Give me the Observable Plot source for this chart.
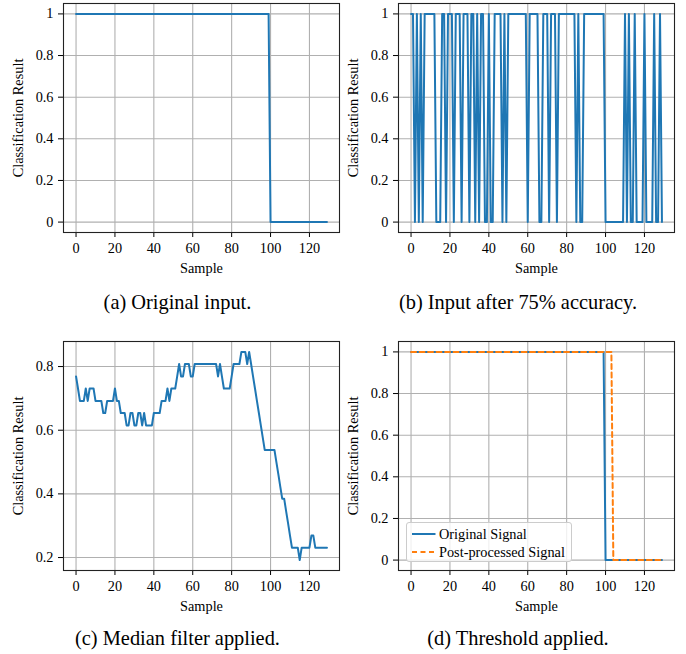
<!DOCTYPE html>
<html><head><meta charset="utf-8">
<script src="https://cdn.jsdelivr.net/npm/d3@7"></script>
<script src="https://cdn.jsdelivr.net/npm/@observablehq/plot@0.6"></script>
<style>
body{margin:0;background:#fff;}
#fig{position:relative;width:686px;height:654px;font-family:"Liberation Serif","Times New Roman",serif;color:#000;}
.panel{position:absolute;}
.cap{position:absolute;font-size:20.4px;line-height:24px;text-align:center;width:343px;white-space:nowrap;}
.legend{position:absolute;left:406px;top:522px;width:166px;height:40px;border:1px solid #cccccc;border-radius:3px;background:rgba(255,255,255,0.8);box-sizing:border-box;font-size:14.3px;}
.legend .row{position:absolute;left:0;height:18px;line-height:18px;white-space:nowrap;}
.legend svg{position:absolute;left:5px;top:0;}
.legend span{position:absolute;left:32px;top:0;}
</style></head><body><div id="fig"></div>
<script>
// ---- data ----
const xTicks = [0, 20, 40, 60, 80, 100, 120];
const yTicksUnit = [0, 0.2, 0.4, 0.6, 0.8, 1];
const yTicksMedian = [0.2, 0.4, 0.6, 0.8];

const xLabel = "Sample";
const yLabel = "Classification Result";
const captions = ["(a) Original input.", "(b) Input after 75% accuracy.", "(c) Median filter applied.", "(d) Threshold applied."];
const legendLabels = ["Original Signal", "Post-processed Signal"];

// (a) original input, samples 0..129
const originalInput = [
  1,1,1,1,1,1,1,1,1,1,
  1,1,1,1,1,1,1,1,1,1,
  1,1,1,1,1,1,1,1,1,1,
  1,1,1,1,1,1,1,1,1,1,
  1,1,1,1,1,1,1,1,1,1,
  1,1,1,1,1,1,1,1,1,1,
  1,1,1,1,1,1,1,1,1,1,
  1,1,1,1,1,1,1,1,1,1,
  1,1,1,1,1,1,1,1,1,1,
  1,1,1,1,1,1,1,1,1,1,
  0,0,0,0,0,0,0,0,0,0,
  0,0,0,0,0,0,0,0,0,0,
  0,0,0,0,0,0,0,0,0,0
];

// (b) input after 75% accuracy
const noisyInput = [
  1,1,0,1,0,1,0,1,1,1,
  1,1,1,0,0,0,1,1,0,1,
  1,1,0,1,1,1,0,1,1,1,
  0,1,1,0,1,0,1,1,0,0,
  1,0,0,1,1,1,1,0,1,0,
  1,1,1,1,1,1,1,1,1,1,
  0,1,1,1,1,1,0,0,1,1,
  1,0,1,1,1,0,1,1,1,1,
  1,1,1,1,1,0,1,0,0,1,
  1,1,1,1,1,1,1,1,1,1,
  0,0,0,0,0,0,0,0,0,0,
  1,0,1,0,0,1,0,0,0,0,
  1,0,0,0,0,1,0,0,1,0
];

// (c) median filter applied
const filtered = [
  0.769,0.731,0.692,0.692,0.692,0.731,0.692,0.731,0.731,0.731,
  0.692,0.692,0.692,0.692,0.654,0.654,0.692,0.692,0.692,0.692,
  0.731,0.692,0.692,0.654,0.654,0.654,0.615,0.615,0.654,0.654,
  0.615,0.615,0.654,0.654,0.615,0.654,0.615,0.615,0.615,0.615,
  0.654,0.654,0.654,0.654,0.692,0.692,0.692,0.731,0.692,0.731,
  0.731,0.731,0.769,0.808,0.769,0.769,0.808,0.808,0.808,0.769,
  0.769,0.808,0.808,0.808,0.808,0.808,0.808,0.808,0.808,0.808,
  0.808,0.808,0.808,0.769,0.808,0.769,0.731,0.731,0.731,0.731,
  0.769,0.808,0.808,0.808,0.808,0.846,0.846,0.846,0.808,0.846,
  0.808,0.769,0.731,0.692,0.654,0.615,0.577,0.538,0.538,0.538,
  0.538,0.538,0.538,0.5,0.462,0.423,0.385,0.385,0.346,0.308,
  0.269,0.231,0.231,0.231,0.231,0.192,0.231,0.231,0.231,0.231,
  0.231,0.269,0.269,0.231,0.231,0.231,0.231,0.231,0.231,0.231
];

// (d) threshold applied
const postProcessed = [
  1,1,1,1,1,1,1,1,1,1,
  1,1,1,1,1,1,1,1,1,1,
  1,1,1,1,1,1,1,1,1,1,
  1,1,1,1,1,1,1,1,1,1,
  1,1,1,1,1,1,1,1,1,1,
  1,1,1,1,1,1,1,1,1,1,
  1,1,1,1,1,1,1,1,1,1,
  1,1,1,1,1,1,1,1,1,1,
  1,1,1,1,1,1,1,1,1,1,
  1,1,1,1,1,1,1,1,1,1,
  1,1,1,1,0,0,0,0,0,0,
  0,0,0,0,0,0,0,0,0,0,
  0,0,0,0,0,0,0,0,0,0
];

const blue = "#1f77b4", orange = "#ff7f0e";
const DASH = "5,3.5";
const FONT = "'Liberation Serif','Times New Roman',serif";

function pad(ext) { const r = ext[1] - ext[0]; return [ext[0] - 0.05 * r, ext[1] + 0.05 * r]; }

function panel({series, yTicks, left, top, mL, mR}) {
  const allY = series.flatMap(s => s.values);
  const n = d3.max(series, s => s.values.length);
  const xDomain = pad([0, n - 1]);
  const yDomain = pad(d3.extent(allY));
  const marks = [
    Plot.gridX(xTicks, {stroke: "#b0b0b0", strokeOpacity: 1, strokeWidth: 1.1}),
    Plot.gridY(yTicks, {stroke: "#b0b0b0", strokeOpacity: 1, strokeWidth: 1.1}),
    Plot.axisX(xTicks, {tickSize: 5, tickPadding: 5, tickFormat: d => String(d), label: xLabel, labelAnchor: "center", labelArrow: "none", labelOffset: 40, fontSize: 14.3}),
    Plot.axisY(yTicks, {tickSize: 5, tickPadding: 5, tickFormat: d => String(d), label: yLabel, labelAnchor: "center", labelArrow: "none", labelOffset: 51, fontSize: 14.3}),
    ...series.map(s => Plot.line(s.values, {x: (d, i) => i, y: d => d, stroke: s.color, strokeWidth: 2, strokeDasharray: s.dash})),
    Plot.frame({stroke: "#222", strokeWidth: 1.1})
  ];
  const p = Plot.plot({
    width: 343, height: 277,
    marginLeft: mL, marginRight: mR, marginTop: 3, marginBottom: 45,
    x: {domain: xDomain}, y: {domain: yDomain},
    style: {fontFamily: FONT, fontSize: "14.3px", color: "#000", background: "transparent", overflow: "visible"},
    marks
  });
  p.classList.add("panel");
  p.style.left = left + "px";
  p.style.top = top + "px";
  document.getElementById("fig").appendChild(p);
}

panel({series: [{values: originalInput, color: blue}], yTicks: yTicksUnit, left: 0, top: 0, mL: 63, mR: 4});
panel({series: [{values: noisyInput, color: blue}], yTicks: yTicksUnit, left: 343, top: 0, mL: 55, mR: 12});
panel({series: [{values: filtered, color: blue}], yTicks: yTicksMedian, left: 0, top: 338, mL: 63, mR: 4});
panel({series: [{values: originalInput, color: blue}, {values: postProcessed, color: orange, dash: DASH}], yTicks: yTicksUnit, left: 343, top: 338, mL: 55, mR: 12});

const fig = document.getElementById("fig");
const capPos = [[6, 289.5], [346.5, 289.5], [6, 626], [346.5, 626]];
captions.forEach((c, i) => {
  const d = document.createElement("div");
  d.className = "cap";
  d.textContent = c;
  d.style.left = capPos[i][0] + "px";
  d.style.top = capPos[i][1] + "px";
  fig.appendChild(d);
});

// legend for panel (d)
const leg = document.createElement("div");
leg.className = "legend";
const legStyles = [{color: blue, dash: null}, {color: orange, dash: DASH}];
legendLabels.forEach((lab, i) => {
  const row = document.createElement("div");
  row.className = "row";
  row.style.top = (2 + i * 18.4) + "px";
  row.style.width = "100%";
  row.innerHTML = `<svg width="24" height="18"><line x1="0" x2="23.5" y1="9" y2="9" stroke="${legStyles[i].color}" stroke-width="2" ${legStyles[i].dash ? `stroke-dasharray="${legStyles[i].dash}"` : ""}/></svg><span></span>`;
  row.querySelector("span").textContent = lab;
  leg.appendChild(row);
});
fig.appendChild(leg);
</script></body></html>
